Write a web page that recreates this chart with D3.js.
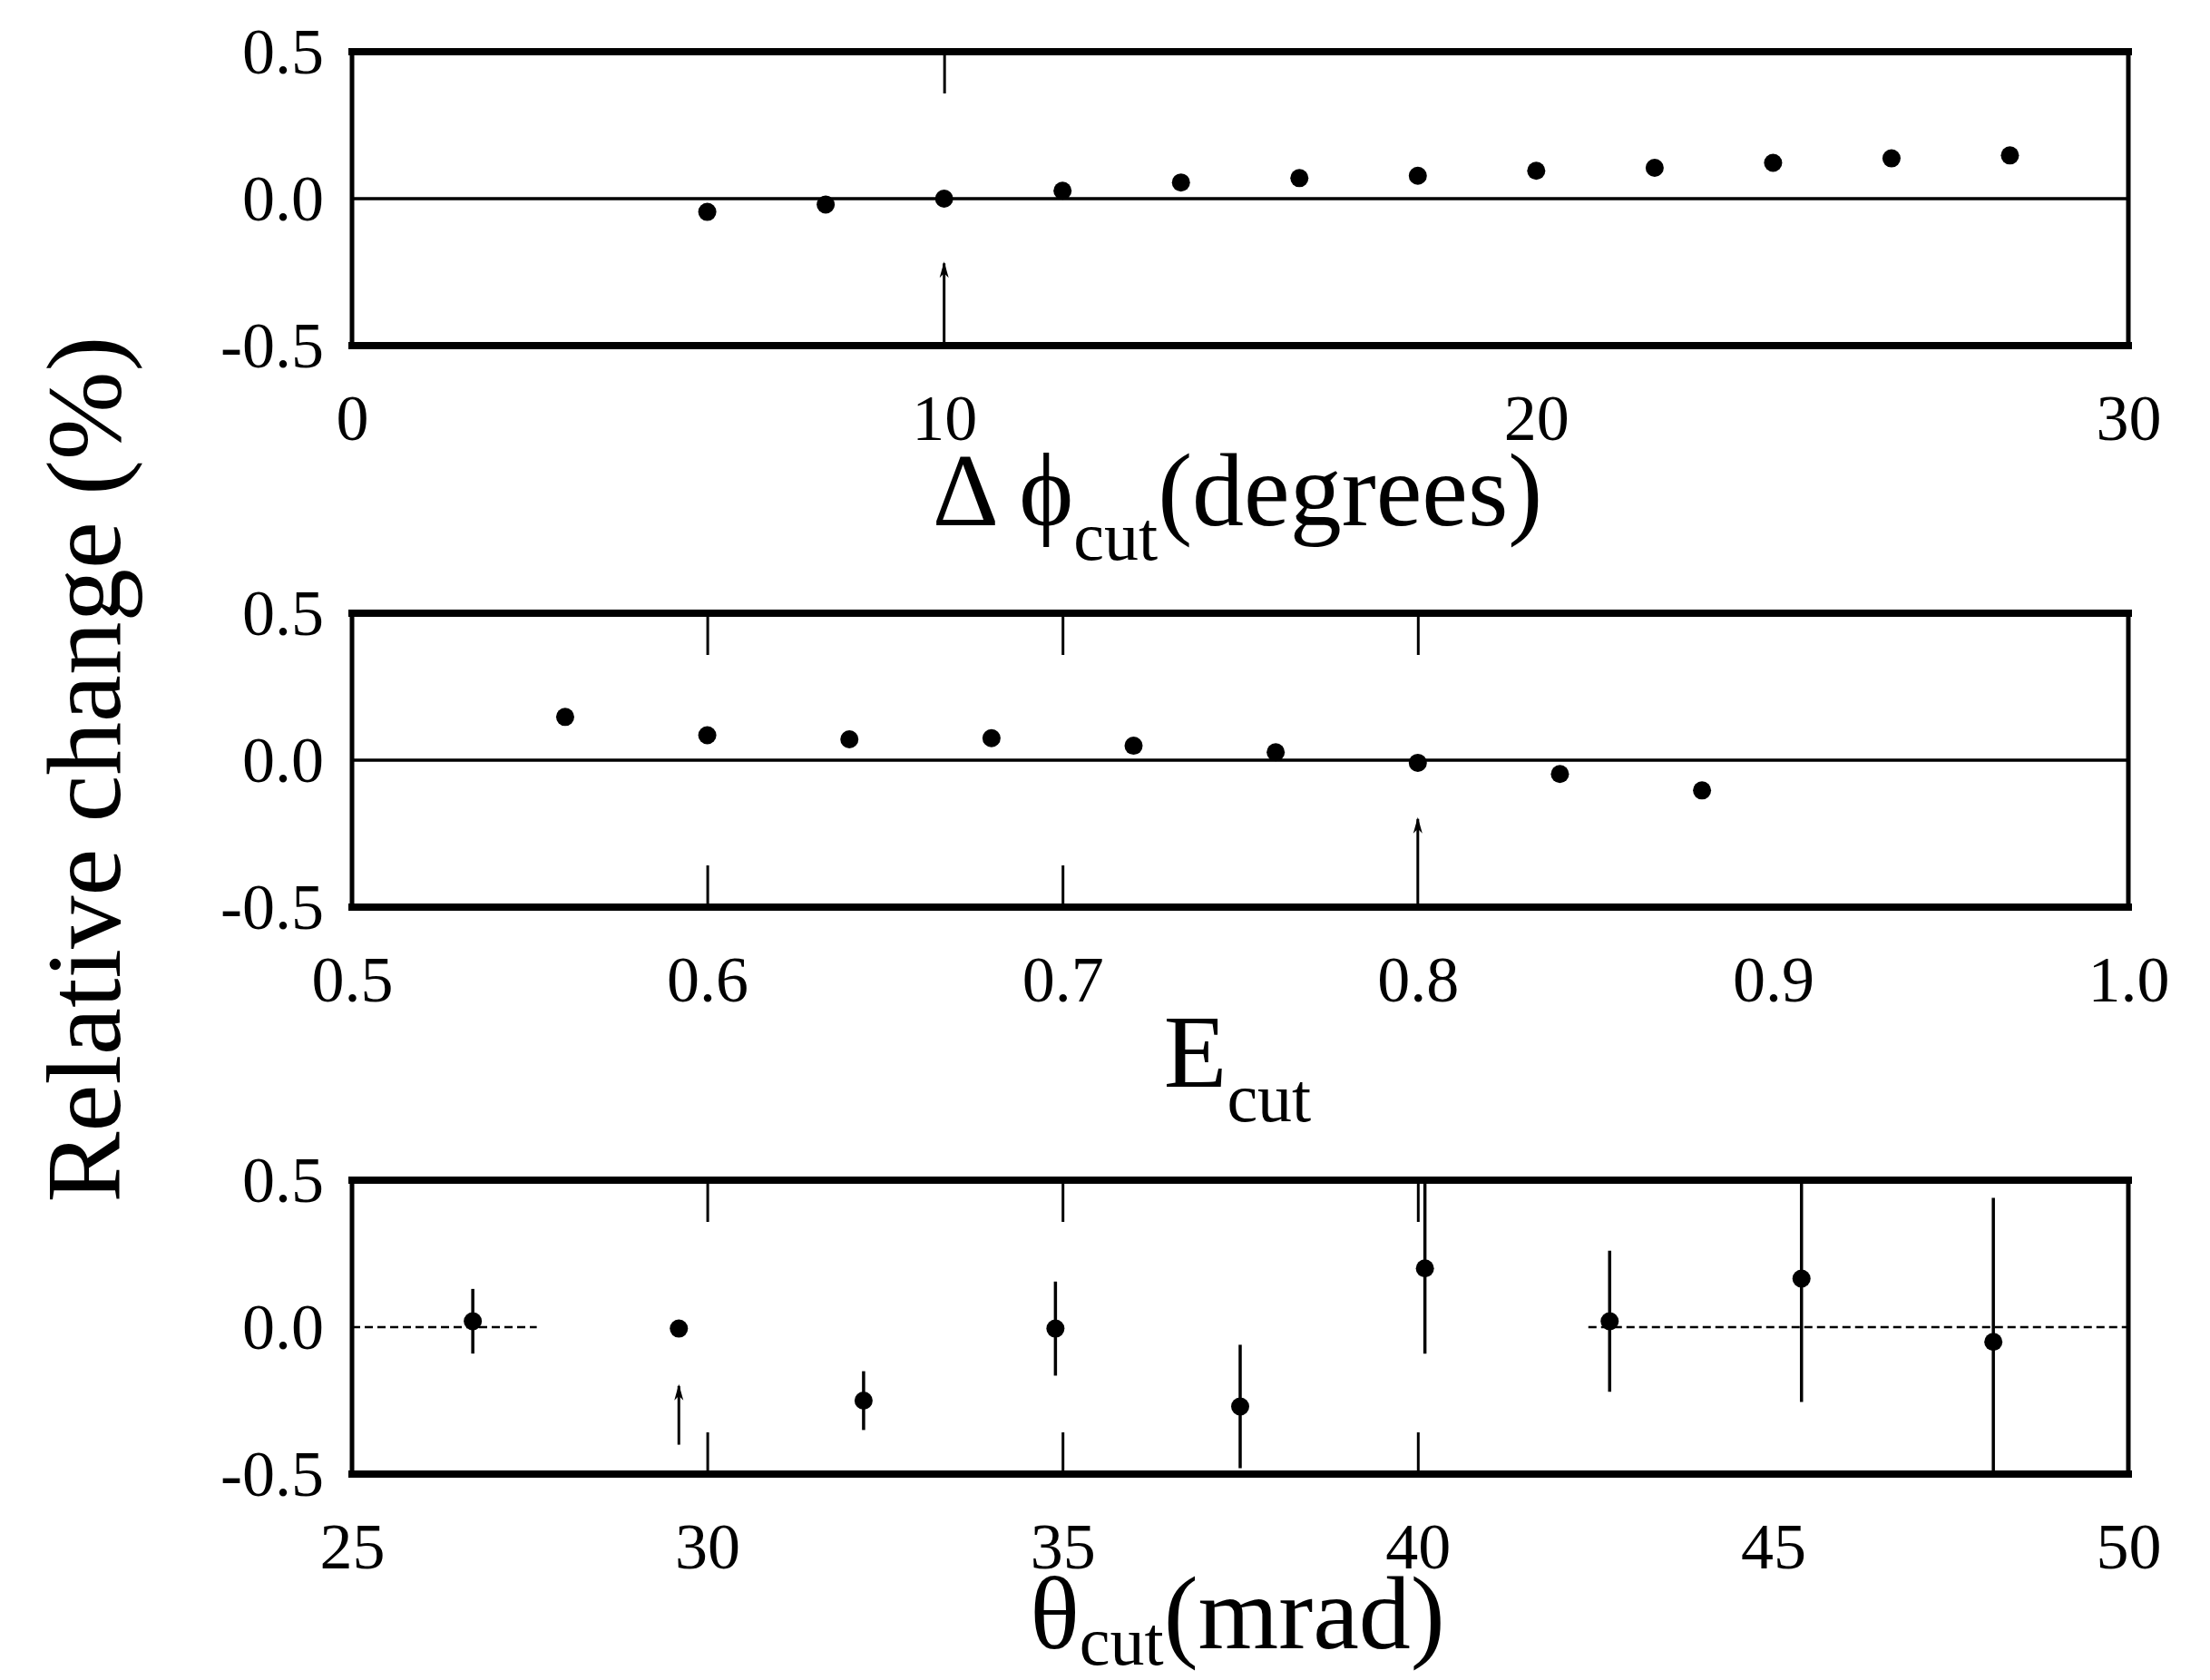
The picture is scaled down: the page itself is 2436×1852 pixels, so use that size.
<!DOCTYPE html>
<html>
<head>
<meta charset="utf-8">
<script src="https://cdn.jsdelivr.net/npm/d3@7"></script>
<style>
  body { margin: 0; background: #fff; }
  svg { display: block; background: #fff; }
  text { font-family: "Liberation Serif", "Times New Roman", serif; fill: #000; }
  .axis .domain { display: none; }
  .marks line { stroke: #000; stroke-width: 3; }
  .frame line { stroke: #000; stroke-linecap: square; }
  .zero { stroke: #000; stroke-width: 3.5; }
  .bar { stroke: #000; stroke-width: 3.5; }
  .cut { stroke: #000; stroke-width: 3; }
</style>
</head>
<body>
<svg id="fig" width="2436" height="1852"></svg>
<script>
// shared y axis (relative change, %)
var yTicks = [-0.5, 0, 0.5];

// top panel: delta phi cut (degrees)
var phiTicks = [0, 10, 20, 30],
    phiMarksTop = [10],
    phiMarksBottom = [],
    phiCut = [6, 8, 10, 12, 14, 16, 18, 20, 22, 24, 26, 28],
    phiChange = [-0.045, -0.02, 0.0, 0.027, 0.055, 0.07, 0.078, 0.095, 0.105, 0.122, 0.137, 0.147],
    phiArrow = [10, -0.5, -0.22];

// middle panel: E cut
var eTicks = [0.5, 0.6, 0.7, 0.8, 0.9, 1.0],
    eMarksTop = [0.6, 0.7, 0.8],
    eMarksBottom = [0.6, 0.7],
    eCut = [0.56, 0.60, 0.64, 0.68, 0.72, 0.76, 0.80, 0.84, 0.88],
    eChange = [0.147, 0.085, 0.071, 0.075, 0.049, 0.027, -0.009, -0.047, -0.103],
    eArrow = [0.8, -0.5, -0.2];

// bottom panel: theta cut (mrad), with errors
var thetaTicks = [25, 30, 35, 40, 45, 50],
    thetaMarksTop = [30, 35, 40],
    thetaMarksBottom = [30, 35, 40],
    thetaCut = [26.7, 29.6, 32.2, 34.9, 37.5, 40.1, 42.7, 45.4, 48.1],
    thetaChange = [0.02, -0.005, -0.25, -0.005, -0.27, 0.2, 0.02, 0.165, -0.05],
    thetaErr = [0.11, 0, 0.1, 0.16, 0.21, 0.29, 0.24, 0.42, 0.49],
    thetaZeroSpans = [[25, 27.6], [42.4, 50]],
    thetaArrow = [29.6, -0.4, -0.2];

var
  svg = d3.select('#fig'),
  left = 388,
  width = 1958,
  height = 324,
  fontMain = 114,
  fontSub = 76;

// small arrowhead, tip along +x so orient=auto points it up the line
svg.append('defs').append('marker')
  .attr('id', 'head')
  .attr('markerUnits', 'userSpaceOnUse')
  .attr('markerWidth', 18).attr('markerHeight', 12)
  .attr('refX', 16).attr('refY', 6)
  .attr('orient', 'auto')
  .attr('viewBox', '0 0 18 12')
  .append('path')
  .attr('d', 'M0,1 L18,6 L0,11 L5,6 Z')
  .attr('fill', '#000');

function panel(cfg) {
  var
    g = svg.append('g').attr('transform', 'translate(' + left + ',' + cfg.top + ')'),
    xScale = d3.scaleLinear().domain(d3.extent(cfg.ticks)).range([0, width]),
    yScale = d3.scaleLinear().domain([-0.5, 0.5]).range([height, 0]).clamp(true),
    fmt = cfg.fmt || (d => d.toFixed(1));

  // inner tick marks
  g.append('g').attr('class', 'axis marks')
    .call(d3.axisTop(xScale).tickValues(cfg.marksTop).tickSize(-46).tickFormat(''));
  g.append('g').attr('class', 'axis marks')
    .attr('transform', 'translate(0,' + height + ')')
    .call(d3.axisBottom(xScale).tickValues(cfg.marksBottom).tickSize(-46).tickFormat(''));

  // tick labels
  g.append('g').attr('class', 'axis')
    .attr('transform', 'translate(0,' + height + ')')
    .call(d3.axisBottom(xScale).tickValues(cfg.ticks).tickSize(0).tickPadding(53).tickFormat(fmt))
    .attr('font-size', 72).attr('font-family', '"Liberation Serif", "Times New Roman", serif');
  g.append('g').attr('class', 'axis')
    .call(d3.axisLeft(yScale).tickValues(yTicks).tickSize(0).tickPadding(31).tickFormat(d => d.toFixed(1)))
    .attr('font-size', 72).attr('font-family', '"Liberation Serif", "Times New Roman", serif');

  // zero line
  var spans = cfg.zeroSpans || [xScale.domain()];
  g.selectAll('.zero')
    .data(spans)
    .enter().append('line')
    .attr('class', 'zero')
    .attr('x1', d => xScale(d[0])).attr('x2', d => xScale(d[1]))
    .attr('y1', yScale(0)).attr('y2', yScale(0))
    .style('stroke-dasharray', cfg.zeroSpans ? '9,5' : null)
    .style('stroke-width', cfg.zeroSpans ? 2.5 : null);

  // frame
  var frame = g.append('g').attr('class', 'frame');
  frame.append('line').attr('x1', 0).attr('x2', width).attr('y1', 0).attr('y2', 0).attr('stroke-width', 8);
  frame.append('line').attr('x1', 0).attr('x2', width).attr('y1', height).attr('y2', height).attr('stroke-width', 8);
  frame.append('line').attr('x1', 0).attr('x2', 0).attr('y1', 0).attr('y2', height).attr('stroke-width', 5);
  frame.append('line').attr('x1', width).attr('x2', width).attr('y1', 0).attr('y2', height).attr('stroke-width', 5);

  // arrow at the chosen cut
  g.append('line')
    .attr('class', 'cut')
    .attr('x1', xScale(cfg.arrow[0])).attr('x2', xScale(cfg.arrow[0]))
    .attr('y1', yScale(cfg.arrow[1])).attr('y2', yScale(cfg.arrow[2]))
    .attr('marker-end', 'url(#head)');

  var pts = cfg.x.map((x, i) => ({x: x, y: cfg.y[i], e: cfg.err ? cfg.err[i] : 0}));

  g.selectAll('.bar')
    .data(pts.filter(d => d.e > 0))
    .enter().append('line')
    .attr('class', 'bar')
    .attr('x1', d => xScale(d.x)).attr('x2', d => xScale(d.x))
    .attr('y1', d => yScale(d.y - d.e)).attr('y2', d => yScale(d.y + d.e));

  g.selectAll('circle')
    .data(pts)
    .enter().append('circle')
    .attr('cx', d => xScale(d.x))
    .attr('cy', d => yScale(d.y))
    .attr('r', 10)
    .attr('fill', '#000');

  // axis title with subscript
  var
    sub = cfg.subShift || 38,
    t = g.append('text')
      .attr('x', width / 2 - 3)
      .attr('y', height + (cfg.titleGap || 198))
      .attr('text-anchor', 'middle')
      .attr('font-size', fontMain);
  t.append('tspan').text(cfg.title[0]);
  t.append('tspan').attr('font-size', fontSub).attr('dy', sub).text('cut');
  if (cfg.title[1]) t.append('tspan').attr('dy', -sub).text(cfg.title[1]);
}

panel({top: 57, ticks: phiTicks, fmt: d => String(d), marksTop: phiMarksTop, marksBottom: phiMarksBottom,
  x: phiCut, y: phiChange, arrow: phiArrow, title: ['\u0394 \u03d5', '(degrees)']});

panel({top: 676, ticks: eTicks, marksTop: eMarksTop, marksBottom: eMarksBottom,
  x: eCut, y: eChange, arrow: eArrow, title: ['E', '']});

panel({top: 1301, ticks: thetaTicks, fmt: d => String(d), marksTop: thetaMarksTop, marksBottom: thetaMarksBottom,
  x: thetaCut, y: thetaChange, err: thetaErr, zeroSpans: thetaZeroSpans, arrow: thetaArrow,
  title: ['\u03b8', '(mrad)'], titleGap: 192, subShift: 18});

// shared y label
svg.append('text')
  .attr('transform', 'translate(132,848) rotate(-90)')
  .attr('text-anchor', 'middle')
  .attr('font-size', 117)
  .text('Relative change (%)');
</script>
</body>
</html>
